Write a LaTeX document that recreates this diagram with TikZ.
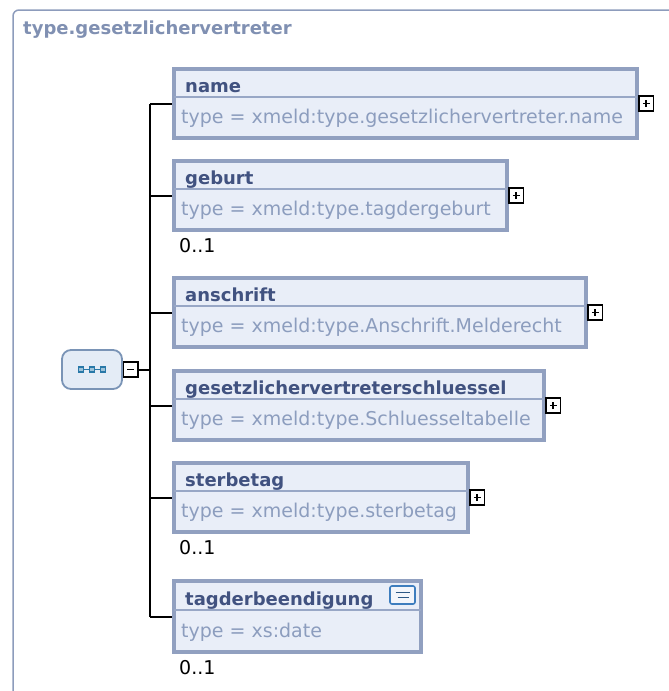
\documentclass[tikz,border=0pt]{standalone}
\usepackage{fontspec}
\setmainfont{DejaVu Sans}
\usepackage{xcolor}
\usepackage{tikz}
\usetikzlibrary{positioning, calc}
\definecolor{frameblue}{RGB}{141,156,188}
\definecolor{titleblue}{RGB}{128,144,178}
\definecolor{boxedge}{RGB}{145,160,192}
\definecolor{boxfill}{RGB}{233,238,248}
\definecolor{divblue}{RGB}{152,167,198}
\definecolor{headblue}{RGB}{65,82,128}
\definecolor{typeblue}{RGB}{140,157,190}
\definecolor{seqfill}{RGB}{228,236,246}
\definecolor{seqedge}{RGB}{122,148,182}
\definecolor{seqdot}{RGB}{40,120,168}
\definecolor{docedge}{RGB}{61,125,190}
\newcommand{\hdrfont}{\fontsize{18}{21}\selectfont\bfseries}
\newcommand{\typefont}{\fontsize{19}{22}\selectfont}

\begin{document}
\begin{tikzpicture}[x=1pt, y=-1pt,
  elem/.style={draw=boxedge, fill=boxfill, line width=4pt, minimum height=69pt,
    inner sep=0pt, anchor=north west},
  divline/.style={divblue, line width=1.5pt},
  hdr/.style={anchor=base west, inner sep=0pt, text=headblue, font=\hdrfont},
  typ/.style={anchor=base west, inner sep=0pt, text=typeblue, font=\typefont},
  occ/.style={anchor=base west, inner sep=0pt, font=\typefont},
  wire/.style={black, line width=2pt},
  expander/.style={draw=black, fill=white, line width=1.6pt, minimum size=14.5pt,
    inner sep=0pt, outer sep=0pt},
  plusbox/.style={expander, path picture={
    \draw[line width=1.8pt] (path picture bounding box.center) +(-3.5pt,0pt) -- +(3.5pt,0pt)
      (path picture bounding box.center) +(0pt,-3.5pt) -- +(0pt,3.5pt);}},
  minusbox/.style={expander, path picture={
    \draw[line width=1.8pt] (path picture bounding box.center) +(-3.5pt,0pt) -- +(3.5pt,0pt);}}
]
  \useasboundingbox (0,0) rectangle (669,691);
  \draw[frameblue, line width=1.5pt, rounded corners=6pt] (669,10) -- (13,10) -- (13,691);
  \node[anchor=base west, inner sep=0pt, text=titleblue, font=\hdrfont] (title) at (23,34)
    {type.gesetzlichervertreter};

  % sequence compositor
  \node[draw=seqedge, fill=seqfill, line width=1.8pt, rounded corners=9pt,
    minimum width=60pt, minimum height=39pt] (seq) at (92,369.5) {};
  \draw[seqdot, line width=1pt] ($(seq.center)+(-11,0)$) -- ($(seq.center)+(11,0)$);
  \foreach \dx in {-11,0,11}
    \draw[seqdot, fill=seqdot!45, line width=1.3pt] ($(seq.center)+(\dx,0)+(-2.5,-2.5)$) rectangle +(5,5);
  \node[minusbox, right=0.5pt of seq] (seqminus) {};
  \coordinate (bus) at (150,369.5);

  % elements
  \node[elem, minimum width=463pt] (name) at (172,67) {};
  \node[elem, minimum width=333pt] (geburt) at (172,159) {};
  \node[elem, minimum width=412pt] (anschrift) at (172,276) {};
  \node[elem, minimum width=370pt] (schluessel) at (172,369) {};
  \node[elem, minimum width=294pt] (sterbetag) at (172,461) {};
  \node[elem, minimum width=247pt, minimum height=71pt] (tagder) at (172,579) {};

  \draw[divline] ($(name.north west)+(2,30)$) -- ($(name.north east)+(-2,30)$);
  \draw[divline] ($(geburt.north west)+(2,30)$) -- ($(geburt.north east)+(-2,30)$);
  \draw[divline] ($(anschrift.north west)+(2,30)$) -- ($(anschrift.north east)+(-2,30)$);
  \draw[divline] ($(schluessel.north west)+(2,30)$) -- ($(schluessel.north east)+(-2,30)$);
  \draw[divline] ($(sterbetag.north west)+(2,30)$) -- ($(sterbetag.north east)+(-2,30)$);
  \draw[divline] ($(tagder.north west)+(2,31)$) -- ($(tagder.north east)+(-2,31)$);

  \node[hdr] (namehdr) at ($(name.north west)+(13,25)$) {name};
  \node[typ] (nametyp) at ($(name.north west)+(9,56)$) {type = xmeld:type.gesetzlichervertreter.name};
  \node[hdr] (geburthdr) at ($(geburt.north west)+(13,25)$) {geburt};
  \node[typ] (geburttyp) at ($(geburt.north west)+(9,56)$) {type = xmeld:type.tagdergeburt};
  \node[hdr] (anschrifthdr) at ($(anschrift.north west)+(13,25)$) {anschrift};
  \node[typ] (anschrifttyp) at ($(anschrift.north west)+(9,56)$) {type = xmeld:type.Anschrift.Melderecht};
  \node[hdr] (schluesselhdr) at ($(schluessel.north west)+(13,25)$) {gesetzlichervertreterschluessel};
  \node[typ] (schluesseltyp) at ($(schluessel.north west)+(9,56)$) {type = xmeld:type.Schluesseltabelle};
  \node[hdr] (sterbetaghdr) at ($(sterbetag.north west)+(13,25)$) {sterbetag};
  \node[typ] (sterbetagtyp) at ($(sterbetag.north west)+(9,56)$) {type = xmeld:type.sterbetag};
  \node[hdr] (tagderhdr) at ($(tagder.north west)+(13,26)$) {tagderbeendigung};
  \node[typ] (tagdertyp) at ($(tagder.north west)+(9,58)$) {type = xs:date};

  \node[draw=docedge, fill=boxfill!60!white, line width=1.6pt, rounded corners=2pt,
    minimum width=25pt, minimum height=18pt, inner sep=0pt] (tagderdoc) at (402.5,595) {};
  \draw[docedge!70!black, line width=1.2pt] ($(tagderdoc.center)+(-7,-2.5)$) -- ($(tagderdoc.center)+(7,-2.5)$);
  \draw[docedge!70!black, line width=1.2pt] ($(tagderdoc.center)+(-5,2.5)$) -- ($(tagderdoc.center)+(6,2.5)$);

  \node[plusbox, right=0pt of name] (nameplus) {};
  \node[plusbox, right=0pt of geburt] (geburtplus) {};
  \node[plusbox, right=0pt of anschrift] (anschriftplus) {};
  \node[plusbox, right=0pt of schluessel] (schluesselplus) {};
  \node[plusbox, right=0pt of sterbetag] (sterbetagplus) {};

  \node[occ] (geburtocc) at ($(geburt.south west)+(7,20)$) {0..1};
  \node[occ] (sterbetagocc) at ($(sterbetag.south west)+(7,20)$) {0..1};
  \node[occ] (tagderocc) at ($(tagder.south west)+(7,20)$) {0..1};

  % connectors
  \draw[wire] (seqminus.east) -- (bus);
  \draw[wire] (name.west -| bus) -- (tagder.west -| bus);
  \draw[wire] (name.west -| bus) -- (name.west);
  \draw[wire] (geburt.west -| bus) -- (geburt.west);
  \draw[wire] (anschrift.west -| bus) -- (anschrift.west);
  \draw[wire] (schluessel.west -| bus) -- (schluessel.west);
  \draw[wire] (sterbetag.west -| bus) -- (sterbetag.west);
  \draw[wire] (tagder.west -| bus) -- (tagder.west);
\end{tikzpicture}
\end{document}
